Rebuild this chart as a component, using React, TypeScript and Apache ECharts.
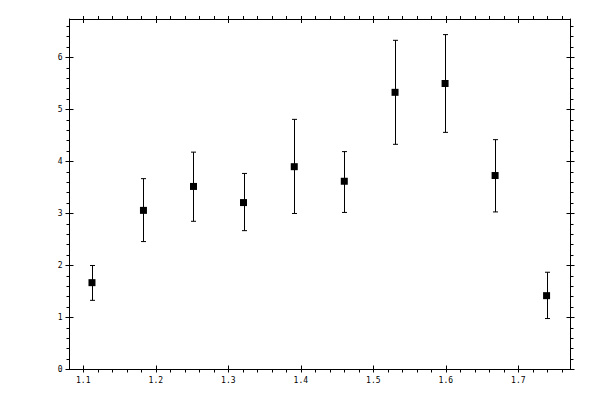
import { useEffect, useRef } from "react";
import * as echarts from "echarts";

const xValues = [1.112, 1.183, 1.252, 1.321, 1.391, 1.46, 1.53, 1.599, 1.668, 1.739];
const yValues = [1.67, 3.06, 3.52, 3.21, 3.9, 3.62, 5.33, 5.5, 3.73, 1.42];
const yLow = [1.33, 2.46, 2.85, 2.67, 3.0, 3.02, 4.33, 4.56, 3.03, 0.98];
const yHigh = [2.0, 3.67, 4.18, 3.77, 4.81, 4.19, 6.33, 6.44, 4.42, 1.87];

// axis ticks
const xMajor = [1.1, 1.2, 1.3, 1.4, 1.5, 1.6, 1.7];
const xMinor = [
  1.12, 1.14, 1.16, 1.18, 1.22, 1.24, 1.26, 1.28, 1.32, 1.34, 1.36, 1.38,
  1.42, 1.44, 1.46, 1.48, 1.52, 1.54, 1.56, 1.58, 1.62, 1.64, 1.66, 1.68,
  1.72, 1.74, 1.76,
];
const yMajor = [0, 1, 2, 3, 4, 5, 6];
const yMinor = [
  0.2, 0.4, 0.6, 0.8, 1.2, 1.4, 1.6, 1.8, 2.2, 2.4, 2.6, 2.8, 3.2, 3.4, 3.6,
  3.8, 4.2, 4.4, 4.6, 4.8, 5.2, 5.4, 5.6, 5.8, 6.2, 6.4, 6.6,
];

const X_MIN = 1.081;
const X_MAX = 1.772;
const Y_MIN = 0;
const Y_MAX = 6.74;

const black = "#000";
const font = "DejaVu Sans Mono";

function tickAxis(
  kind: "x" | "y",
  position: string,
  values: number[],
  length: number,
  inside: boolean,
  withLine = false,
  withLabels = false,
) {
  const range = kind === "x" ? { min: X_MIN, max: X_MAX } : { min: Y_MIN, max: Y_MAX };
  return {
    type: "value",
    position,
    ...range,
    axisLine: { show: withLine, onZero: false, lineStyle: { color: black, width: 1 } },
    axisTick: {
      show: true,
      inside,
      length,
      customValues: values,
      lineStyle: { color: black, width: 1 },
    },
    axisLabel: withLabels
      ? {
          show: true,
          customValues: values,
          color: black,
          fontFamily: font,
          fontSize: 8,
          margin: 7,
          formatter: (v: number) => (kind === "x" ? v.toFixed(1) : String(Math.round(v))),
        }
      : { show: false },
    splitLine: { show: false },
    minorTick: { show: false },
  };
}

export default function App() {
  const ref = useRef<HTMLDivElement>(null);

  useEffect(() => {
    if (!ref.current) return;
    const chart = echarts.init(ref.current, null, { renderer: "svg" });

    const points = xValues.map((x, i) => [x, yValues[i]]);
    const bars = xValues.map((x, i) => [x, yLow[i], yHigh[i]]);

    chart.setOption({
      animation: false,
      backgroundColor: "#fff",
      grid: { left: 69.5, right: 29.5, top: 19, bottom: 30.5, containLabel: false },
      xAxis: [
        tickAxis("x", "bottom", xMajor, 3, false, true, true),
        tickAxis("x", "bottom", xMajor, 4, true),
        tickAxis("x", "bottom", xMinor, 3, false),
        tickAxis("x", "top", xMajor, 3, false, true),
        tickAxis("x", "top", xMajor, 4, true),
        tickAxis("x", "top", xMinor, 3, false),
      ],
      yAxis: [
        tickAxis("y", "left", yMajor, 4, false, true, true),
        tickAxis("y", "left", yMajor, 4, true),
        tickAxis("y", "left", yMinor, 3, false),
        tickAxis("y", "right", yMajor, 4, false, true),
        tickAxis("y", "right", yMajor, 4, true),
        tickAxis("y", "right", yMinor, 3, false),
      ],
      series: [
        {
          type: "custom",
          xAxisIndex: 0,
          yAxisIndex: 0,
          data: bars,
          silent: true,
          z: 2,
          renderItem: (_params: any, api: any) => {
            const x = api.value(0);
            const lo = api.coord([x, api.value(1)]);
            const hi = api.coord([x, api.value(2)]);
            const cx = Math.round(lo[0]) + 0.5;
            const w = 2.5;
            const style = { stroke: black, lineWidth: 1 };
            return {
              type: "group",
              children: [
                { type: "line", shape: { x1: cx, y1: lo[1], x2: cx, y2: hi[1] }, style },
                { type: "line", shape: { x1: cx - w, y1: lo[1], x2: cx + w, y2: lo[1] }, style },
                { type: "line", shape: { x1: cx - w, y1: hi[1], x2: cx + w, y2: hi[1] }, style },
              ],
            };
          },
        },
        {
          type: "scatter",
          xAxisIndex: 0,
          yAxisIndex: 0,
          data: points,
          symbol: "rect",
          symbolSize: 7,
          itemStyle: { color: black, opacity: 1 },
          silent: true,
          z: 3,
        },
      ],
    });

    return () => chart.dispose();
  }, []);

  return (
    <div
      ref={ref}
      style={{ position: "absolute", left: 0, top: 0, width: 600, height: 400 }}
    />
  );
}
